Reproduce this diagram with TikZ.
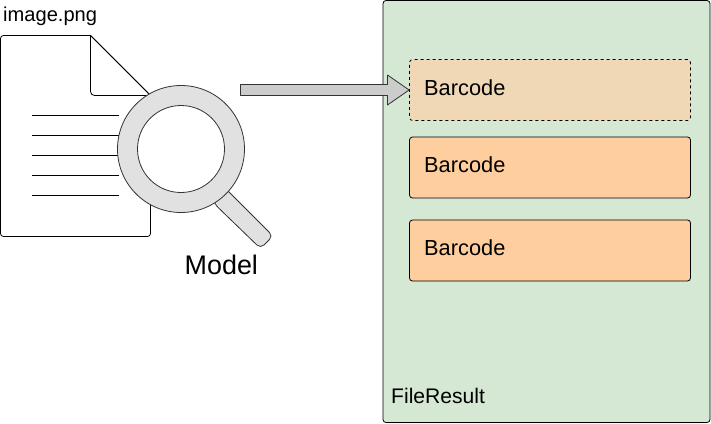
\documentclass[tikz,border=0pt]{standalone}
\usepackage{fontspec}
\setmainfont{Liberation Sans}
\tikzset{
  x=1pt,y=-1pt,
  ln/.style={draw=black,line width=0.8pt,line join=round},
  lbl/.style={inner sep=0pt,anchor=base west,text=black},
  bar/.style={ln,fill=barfill,rounded corners=3pt},
}
\definecolor{panel}{HTML}{D5E8D4}
\definecolor{barfill}{HTML}{FFCE9F}
\definecolor{barfade}{HTML}{F0D7B5}
\definecolor{lens}{HTML}{E1E1E1}
\definecolor{arrowgray}{HTML}{CCCCCC}
\begin{document}
\begin{tikzpicture}
\useasboundingbox (0,0) rectangle (711,423);
% document
\draw[ln,fill=white] (90.5,35.5) [rounded corners=3pt] -- (0.5,35.5) -- (0.5,236.5) -- (150.5,236.5) -- (150.5,150) [sharp corners] -- (150.5,95.5) -- cycle;
\draw[ln,fill=white] (90.5,35.5) -- (90.5,60) [rounded corners=4pt] -- (90.5,95.5) -- (120,95.5) [sharp corners] -- (150.5,95.5) -- cycle;
\foreach \y in {115.5,135.5,155.5,175.5,195.5}
  \draw[ln] (32,\y) -- (118.5,\y);
% magnifier
\path[ln,draw=black!80,fill=lens] (205,172) -- (229,192) [rounded corners=5pt] -- (273,236) -- (260.5,248.5) -- (214.5,204) [sharp corners] -- cycle;
\draw[ln,draw=black!80,fill=lens] (181,149) circle[radius=63.5];
\draw[ln,draw=black!80,fill=white] (181,149) circle[radius=43.5];
% panel
\node[ln,fill=panel,rounded corners=3pt,minimum width=327pt,minimum height=422pt,inner sep=0pt] (panel) at (546.5,211.5) {};
% barcodes
\node[ln,fill=barfade,dashed,rounded corners=3pt,minimum width=281pt,minimum height=61pt,inner sep=0pt] (b1) at (550,90) {};
\node[bar,minimum width=281pt,minimum height=61pt,inner sep=0pt] (b2) at (550,167.5) {};
\node[bar,minimum width=281pt,minimum height=61pt,inner sep=0pt] (b3) at (550,250.5) {};
% arrow
\coordinate (as) at (240.5,90);
\draw[ln,draw=black!80,fill=arrowgray] (as) ++(0,-5.5) -- ++(147,0) -- ++(0,-9.5) -- (b1.west) -- (387.5,105) -- (387.5,95.5) -- (240.5,95.5) -- cycle;
% labels
\node[lbl,font=\fontsize{20.1}{22}\selectfont] (t0) at (3,21) {image.png};
\node[lbl,font=\fontsize{26.9}{30}\selectfont] (t1) at (184.5,274) {Model};
\node[lbl,font=\fontsize{21.8}{24}\selectfont] (t2) at (424,95) {Barcode};
\node[lbl,font=\fontsize{21.8}{24}\selectfont] (t3) at (424,172) {Barcode};
\node[lbl,font=\fontsize{21.8}{24}\selectfont] (t4) at (424,255) {Barcode};
\node[lbl,font=\fontsize{21.1}{24}\selectfont] (t5) at (391,403) {FileResult};
\end{tikzpicture}
\end{document}
